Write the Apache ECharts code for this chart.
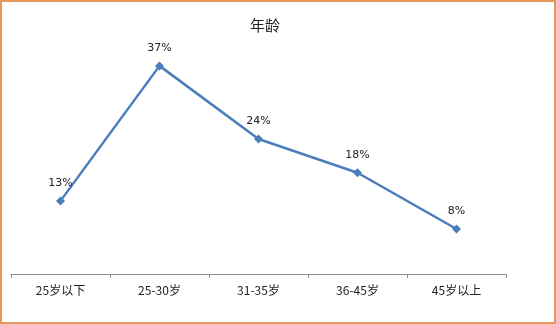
<!DOCTYPE html>
<html>
<head>
<meta charset="utf-8">
<script src="https://cdn.jsdelivr.net/npm/echarts@6/dist/echarts.min.js"></script>
<style>
html,body{margin:0;padding:0;background:#fff;}
#c{width:556px;height:324px;}
</style>
</head>
<body>
<div id="c"></div>
<script>
var categories = ['25岁以下', '25-30岁', '31-35岁', '36-45岁', '45岁以上'];
var values = [13, 37, 24, 18, 8];
var titleText = '年龄';

var chart = echarts.init(document.getElementById('c'), null, {renderer: 'canvas'});
chart.setOption({
  animation: false,
  backgroundColor: '#fff',
  title: {
    text: titleText,
    left: 260,
    top: 13,
    textAlign: 'center',
    textStyle: {fontSize: 15, fontWeight: 'normal', color: '#222', fontFamily: 'Noto Sans CJK SC'}
  },
  graphic: [{
    type: 'rect',
    shape: {x: 1, y: 1, width: 554, height: 322},
    style: {fill: 'none', stroke: '#e39a5c', lineWidth: 2},
    silent: true,
    z: 100
  }],
  grid: {left: 11, right: 50, top: 49, bottom: 50},
  xAxis: {
    type: 'category',
    data: categories,
    boundaryGap: true,
    axisLine: {lineStyle: {color: '#8c8c8c', width: 1}},
    axisTick: {show: true, length: 4, lineStyle: {color: '#8c8c8c'}},
    axisLabel: {color: '#222', fontSize: 12, margin: 10, fontFamily: 'Noto Sans CJK SC'}
  },
  yAxis: {
    type: 'value',
    min: 0,
    max: 40,
    interval: 10,
    show: false,
    splitLine: {show: false}
  },
  series: [{
    type: 'line',
    data: values,
    symbol: 'diamond',
    symbolSize: 9,
    itemStyle: {color: '#4a7ebb'},
    lineStyle: {color: '#4a7ebb', width: 2.5},
    label: {
      show: true,
      position: 'top',
      distance: 8,
      formatter: '{c}%',
      color: '#222',
      fontSize: 11,
      fontFamily: 'DejaVu Sans'
    }
  }]
});
</script>
</body>
</html>
